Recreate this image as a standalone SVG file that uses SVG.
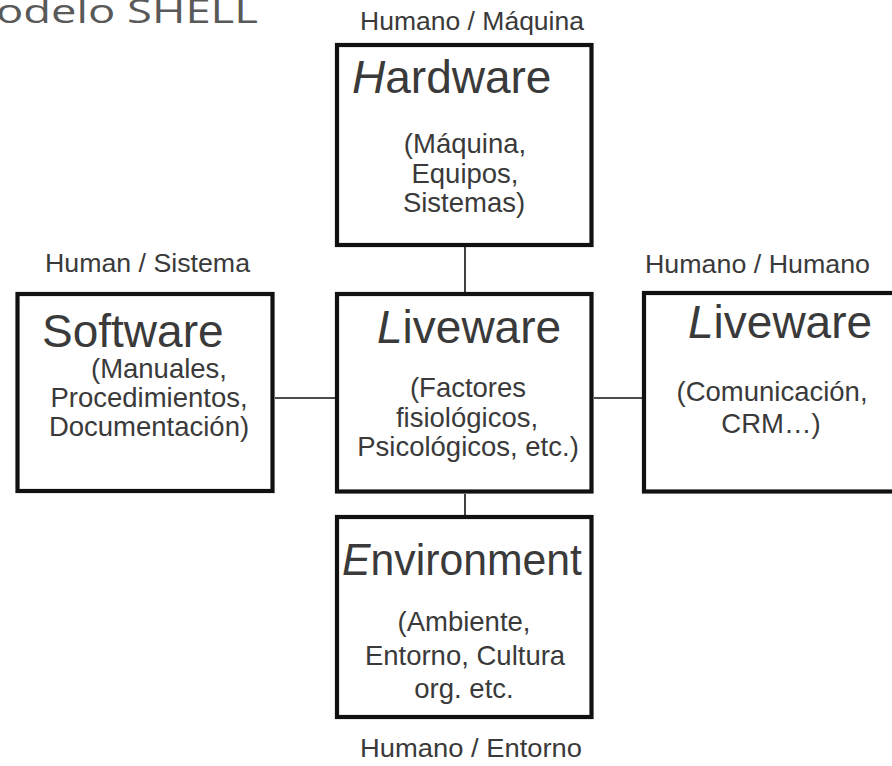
<svg xmlns="http://www.w3.org/2000/svg" width="892" height="766" viewBox="0 0 892 766">
  <style>
    .box { fill: #ffffff; stroke: #111111; stroke-width: 4.2; }
    .link { stroke: #111111; stroke-width: 1.6; fill: none; }
    .head { font-family: "Liberation Sans", Arial, sans-serif; font-size: 46px; fill: #3a3a3a; }
    .sub { font-family: "Liberation Sans", Arial, sans-serif; font-size: 27.5px; fill: #3a3a3a; text-anchor: middle; }
    .tag { font-family: "Liberation Sans", Arial, sans-serif; font-size: 26px; fill: #3a3a3a; }
    .title { font-family: "Open Sans", "Liberation Sans", sans-serif; font-size: 33px; fill: #595959; }
    .it { font-style: italic; }
  </style>
  <rect width="892" height="766" fill="#ffffff"/>

  <text class="title" x="-4" y="23" textLength="262" lengthAdjust="spacingAndGlyphs">odelo SHELL</text>

  <g id="connectors">
    <line class="link" x1="465" y1="247" x2="465" y2="292"/>
    <line class="link" x1="275" y1="398" x2="335" y2="398"/>
    <line class="link" x1="594" y1="398" x2="642" y2="398"/>
    <line class="link" x1="465" y1="494" x2="465" y2="515"/>
  </g>

  <g id="hardware">
    <text class="tag" x="360" y="30" textLength="224" lengthAdjust="spacingAndGlyphs">Humano / Máquina</text>
    <rect class="box" x="337" y="45" width="254.5" height="200"/>
    <text class="head" x="352" y="93"><tspan class="it">H</tspan>ardware</text>
    <text class="sub" x="465" y="153">(Máquina,</text>
    <text class="sub" x="465" y="183">Equipos,</text>
    <text class="sub" x="464" y="212">Sistemas)</text>
  </g>

  <g id="software">
    <text class="tag" x="45" y="272" textLength="205" lengthAdjust="spacingAndGlyphs">Human / Sistema</text>
    <rect class="box" x="17.5" y="294" width="255" height="197"/>
    <text class="head" x="42" y="347">Software</text>
    <text class="sub" x="159" y="378">(Manuales,</text>
    <text class="sub" x="149" y="407">Procedimientos,</text>
    <text class="sub" x="149" y="436">Documentación)</text>
  </g>

  <g id="liveware-center">
    <rect class="box" x="337" y="294" width="254.5" height="197.5"/>
    <text class="head" x="377" y="343"><tspan class="it">L</tspan>iveware</text>
    <text class="sub" x="468" y="397">(Factores</text>
    <text class="sub" x="467" y="427">fisiológicos,</text>
    <text class="sub" x="468" y="456">Psicológicos, etc.)</text>
  </g>

  <g id="liveware-right">
    <text class="tag" x="645" y="273" textLength="225" lengthAdjust="spacingAndGlyphs">Humano / Humano</text>
    <rect class="box" x="644" y="293" width="260" height="198.5"/>
    <text class="head" x="688" y="338"><tspan class="it">L</tspan>iveware</text>
    <text class="sub" x="772" y="401">(Comunicación,</text>
    <text class="sub" x="771" y="433">CRM…)</text>
  </g>

  <g id="environment">
    <rect class="box" x="337" y="517" width="254.5" height="200"/>
    <text class="head" x="342" y="575" style="font-size:44px" textLength="240" lengthAdjust="spacingAndGlyphs"><tspan class="it">E</tspan>nvironment</text>
    <text class="sub" x="464" y="631">(Ambiente,</text>
    <text class="sub" x="465" y="665">Entorno, Cultura</text>
    <text class="sub" x="464" y="698">org. etc.</text>
    <text class="tag" x="360" y="757" textLength="222" lengthAdjust="spacingAndGlyphs">Humano / Entorno</text>
  </g>
</svg>
